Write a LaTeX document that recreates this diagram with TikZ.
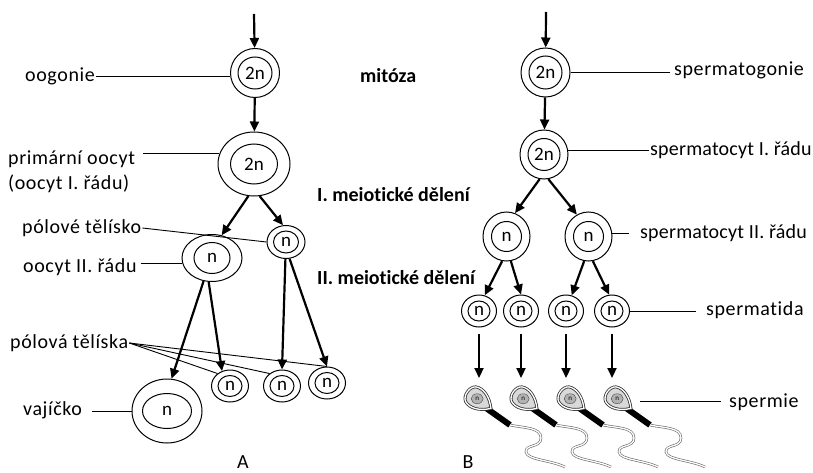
\documentclass[tikz,border=0pt]{standalone}
\usepackage{fontspec}
\setmainfont{Carlito}[Ligatures=NoCommon]
\usetikzlibrary{arrows.meta,shapes.geometric}

\tikzset{
  % cell = outer ellipse with the nucleus ring drawn inside it
  cell/.style n args={4}{ellipse, draw, line width=1pt, inner sep=0pt,
    minimum width=#1, minimum height=#2, font=\fontsize{19}{19}\selectfont,
    path picture={\draw[line width=1pt] (path picture bounding box.center)
      ellipse [x radius=#3, y radius=#4];}},
  arr/.style={-{Triangle[length=10pt,width=9pt]}, line width=2.2pt},
  lbl/.style={line width=0.9pt},
  lab/.style={inner sep=1pt,
    font=\addfontfeature{LetterSpace=3}\fontsize{20}{25}\selectfont},
  tight/.style={font=\addfontfeature{LetterSpace=1}\fontsize{20}{25}\selectfont},
  phase/.style={inner sep=0pt, font=\bfseries\fontsize{20}{24}\selectfont},
  nucleus/.style={ellipse, draw=black!70, fill=gray!60, inner sep=0pt,
    minimum width=12pt, minimum height=10pt, font=\fontsize{7}{7}\selectfont},
  tail/.style={draw=black!60, line width=0.6pt, double=white,
    double distance=1.3pt},
  sperm/.pic={
    % midpiece and tail
    \draw[line width=6pt] (7,8) -- (31,25);
    \draw[tail] (31,25) .. controls (44,28) and (62,27) .. (62,38)
      .. controls (62,48) and (46,44) .. (47,52)
      .. controls (48,60) and (72,60) .. (86,67);
    % head
    \begin{scope}[rotate=-35, scale=1.12]
      \draw[line width=0.8pt, draw=black!80, double=white, double distance=1.3pt,
        fill=gray!30] (13,0) .. controls (6,8) and (-3,11) .. (-9,8)
        .. controls (-14,5) and (-14,-5) .. (-9,-8)
        .. controls (-3,-11) and (6,-8) .. (13,0) -- cycle;
      \node[nucleus] at (-2,0) {n};
    \end{scope}
  }
}

\begin{document}
\begin{tikzpicture}[x=1pt, y=-1pt]
  \fill[white] (0,0) rectangle (813,473);
  \useasboundingbox (0,0) rectangle (813,473);

  % oogeneze
  \coordinate (in1) at (254,14);
  \node[cell={49pt}{49pt}{17pt}{16pt}] (og) at (255,73) {2n};
  \node[cell={72pt}{64pt}{23.5pt}{20pt}] (po) at (254,164) {2n};
  \node[cell={60pt}{47pt}{18pt}{15.5pt}] (so) at (212,258) {n};
  \node[cell={38pt}{33pt}{12.5pt}{11pt}] (pb1) at (286,242) {n};
  \node[cell={70pt}{64pt}{24.5pt}{17.5pt}] (egg) at (167,411) {n};
  \node[cell={37pt}{32pt}{12pt}{10.5pt}] (pb2) at (230,386) {n};
  \node[cell={37pt}{32pt}{12pt}{10.5pt}] (pb3) at (282,386) {n};
  \node[cell={37pt}{32pt}{12pt}{10.5pt}] (pb4) at (327,383) {n};

  \draw[arr] (in1) -- (og);
  \draw[arr] (og) -- (po);
  \draw[arr] (po.260) -- (so.67);
  \draw[arr] (po.280) -- (pb1.100);
  \draw[arr] (so.250) -- (egg.82);
  \draw[arr] (so.262) -- (pb2.118);
  \draw[arr] (pb1.268) -- (pb3.north);
  \draw[arr] (pb1.282) -- (pb4.north);

  \node[lab, anchor=west] (ogl) at (24,76) {oogonie};
  \node[lab, anchor=west, align=left] (pol) at (7,172) {primární oocyt\\(oocyt I. řádu)};
  \node[lab, anchor=west] (plt) at (21,228) {pólové tělísko};
  \node[lab, anchor=west] (osl) at (22,267) {oocyt II. řádu};
  \node[lab, anchor=west] (pls) at (9,343) {pólová tělíska};
  \node[lab, anchor=west] (vl) at (22,410) {vajíčko};

  \draw[lbl] (ogl.east) -- (ogl.east -| og.west);
  \draw[lbl, shorten <=7pt] (pol.east |- po.163) -- (po.163);
  \draw[lbl] (plt.east) -- (pb1.west);
  \draw[lbl, shorten <=3pt] (osl.east |- so.190) -- (so.190);
  \foreach \c/\a in {pb2/135, pb3/135, pb4/90}
    \draw[lbl] (pls.east) -- (\c.\a);
  \draw[lbl, shorten <=9pt] (vl.east |- egg.west) -- (egg.west);

  % fáze dělení
  \node[phase, anchor=west] (mit) at (360,76) {mitóza};
  \node[phase, anchor=west] (m1) at (317,195) {I. meiotické dělení};
  \node[phase, anchor=west] (m2) at (317,278) {II. meiotické dělení};

  % spermatogeneze
  \coordinate (in2) at (546,12);
  \node[cell={49pt}{49pt}{16.5pt}{16.5pt}] (sg) at (545.5,72.5) {2n};
  \node[cell={48pt}{49pt}{16pt}{16pt}] (sc1) at (544,154.5) {2n};
  \node[cell={47pt}{49pt}{15pt}{15pt}] (sc2a) at (506.5,236.5) {n};
  \node[cell={47pt}{49pt}{15pt}{15pt}] (sc2b) at (588.5,236.5) {n};
  \foreach \i/\x in {1/479, 2/521, 3/566, 4/612} {
    \node[cell={35pt}{32pt}{11pt}{10pt}] (st\i) at (\x,311) {n};
    \coordinate (h\i) at (\x,378);
  }

  \draw[arr] (in2) -- (sg);
  \draw[arr] (sg) -- (sc1);
  \draw[arr] (sc1.260) -- (sc2a.70);
  \draw[arr] (sc1.280) -- (sc2b.118);
  \draw[arr] (sc2a.260) -- (st1.70);
  \draw[arr] (sc2a.280) -- (st2.north);
  \draw[arr] (sc2b.260) -- (st3.70);
  \draw[arr] (sc2b.280) -- (st4.100);
  \foreach \i in {1,...,4}
    \draw[arr, shorten <=6pt] (st\i) -- (h\i);

  \foreach \i/\x in {1/479, 2/525, 3/572, 4/619}
    \pic at (\x,400) {sperm};
  \coordinate (sp4) at (633,401);

  \node[lab, anchor=west] (sgl) at (673,70) {spermatogonie};
  \node[lab, tight, anchor=west] (sc1l) at (649,150) {spermatocyt I. řádu};
  \node[lab, tight, anchor=west] (sc2l) at (639,233) {spermatocyt II. řádu};
  \node[lab, anchor=west] (stl) at (705,310) {spermatida};
  \node[lab, anchor=west] (spl) at (728,402) {spermie};

  \draw[lbl, shorten >=3pt] (sg.east) -- (sg.east -| sgl.west);
  \draw[lbl] (sc1.10) -- (sc1.10 -| sc1l.west);
  \draw[lbl, shorten >=10pt] (sc2b.8) -- (sc2b.8 -| sc2l.west);
  \draw[lbl, shorten >=9pt] (st4.east) -- (st4.east -| stl.west);
  \draw[lbl, shorten <=7pt, shorten >=7pt] (sp4) -- (sp4 -| spl.west);

  \node[lab] (la) at (243,462) {A};
  \node[lab] (lb) at (468,462) {B};
\end{tikzpicture}
\end{document}
